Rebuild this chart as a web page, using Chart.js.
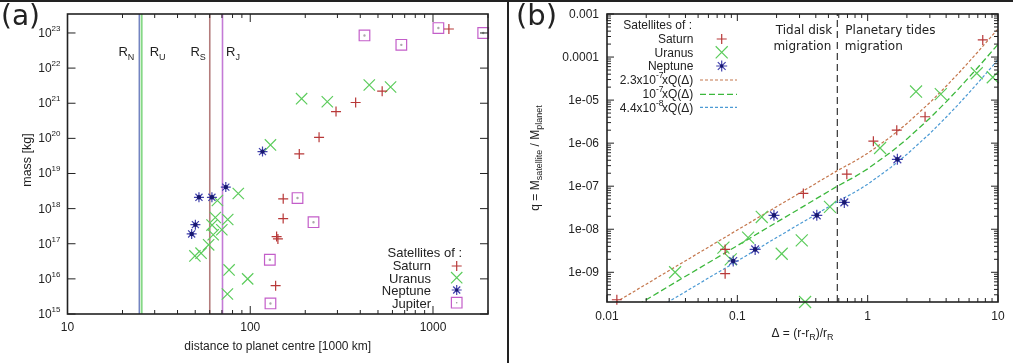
<!DOCTYPE html>
<html><head><meta charset="utf-8">
<script src="https://cdn.jsdelivr.net/npm/chart.js@4.4.0/dist/chart.umd.min.js"></script>
<style>
html,body{margin:0;padding:0;background:#fff;width:1024px;height:363px;overflow:hidden;}
#ca{position:absolute;left:0;top:0;}
#cb{position:absolute;left:510px;top:0;}
#topline{position:absolute;left:0;top:0;width:1013px;height:2px;background:#222;}
#divider{position:absolute;left:507px;top:0;width:2px;height:363px;background:#222;}
</style></head><body>
<canvas id="ca" width="507" height="363"></canvas>
<canvas id="cb" width="514" height="363"></canvas>
<div id="topline"></div><div id="divider"></div>
<script>
// ================= DATA: panel (a) =================
const aXTicks = [10, 100, 1000];
const aXTickLabels = ['10', '100', '1000'];
const aYTickExp = [15, 16, 17, 18, 19, 20, 21, 22, 23];
const saturnDist = [1221.9, 527.1, 377.4, 294.7, 238.0, 185.5, 151.5, 151.4, 139.4, 141.7, 137.7];
const saturnMass = [1.3e23, 2.2e21, 1.05e21, 5.8e20, 1.07e20, 3.6e19, 1.9e18, 5.2e17, 1.6e17, 1.37e17, 6.4e15];
const uranusDist = [448, 586, 191, 264, 129, 86, 66.1, 64.4, 75.3, 61.8, 69.9, 62.7, 59.2, 49.8, 53.8, 76.6, 75.0, 96.8];
const uranusMass = [3.3e21, 2.9e21, 1.35e21, 1.1e21, 6.5e19, 2.7e18, 1.7e18, 5.6e17, 4.9e17, 3.4e17, 2.5e17, 1.8e17, 9.3e16, 4.5e16, 5.4e16, 1.8e16, 3.7e15, 1.0e16];
const neptuneDist = [116.7, 73.5, 61.7, 52.4, 50.1, 47.8];
const neptuneMass = [4.2e19, 4.1e18, 2.1e18, 2.1e18, 3.5e17, 1.9e17];
const jupiterDist = [421.8, 671.1, 1070.4, 1882.7, 181.4, 221.9, 128.0, 129.0];
const jupiterMass = [8.5e22, 4.6e22, 1.38e23, 1.0e23, 2.0e18, 4.1e17, 3.5e16, 2.0e15];
const rocheNames = ['N', 'U', 'S', 'J'];
const rocheDist = [24.7, 25.45, 60.05, 70.5];
const aXRange = [10, 2000];
const aYRange = [1e15, 3.47e23];

// ================= DATA: panel (b) =================
const bXTicks = [0.01, 0.1, 1, 10];
const bXTickLabels = ['0.01', '0.1', '1', '10'];
const bYTicks = [1e-3, 1e-4, 1e-5, 1e-6, 1e-7, 1e-8, 1e-9];
const bYTickLabels = ['0.001', '0.0001', '1e-05', '1e-06', '1e-07', '1e-08', '1e-09'];
const bSaturnD = [0.0119, 0.0806, 0.0806, 0.321, 0.692, 1.106, 1.672, 2.757, 7.64];
const bSaturnQ = [2.3e-10, 9.3e-10, 3.4e-9, 6.8e-8, 1.9e-7, 1.11e-6, 2.0e-6, 4.1e-6, 2.5e-4];
const bUranusD = [0.0333, 0.0782, 0.089, 0.121, 0.154, 0.219, 0.312, 0.331, 0.514, 1.245, 2.35, 3.64, 6.87, 9.12];
const bUranusQ = [1.0e-9, 3.75e-9, 2.0e-9, 6.4e-9, 1.93e-8, 2.7e-9, 5.5e-9, 2.04e-10, 3.3e-8, 7.7e-7, 1.58e-5, 1.38e-5, 4.2e-5, 3.4e-5];
const bNeptuneD = [0.093, 0.137, 0.191, 0.407, 0.662, 1.69];
const bNeptuneQ = [1.83e-9, 3.4e-9, 2.1e-8, 2.1e-8, 4.2e-8, 4.2e-7];
const curveDelta = [0.01, 0.015, 0.02, 0.03, 0.05, 0.1, 0.2, 0.3, 0.4, 0.585, 0.8, 1, 1.5, 2, 3, 4, 5, 7, 10];
const curveHigh = [1.52e-10, 3.15e-10, 5.3e-10, 1.1e-9, 2.76e-9, 9.6e-9, 3.34e-8, 6.9e-8, 1.16e-7, 2.3e-7, 3.84e-7, 5.8e-7, 1.4e-6, 2.85e-6, 8.7e-6, 2.1e-5, 4.25e-5, 1.31e-4, 4.5e-4];
const curveMid = [6.6e-11, 1.37e-10, 2.3e-10, 4.8e-10, 1.2e-9, 4.16e-9, 1.45e-8, 3.0e-8, 5.05e-8, 1.0e-7, 1.67e-7, 2.53e-7, 6.1e-7, 1.24e-6, 3.8e-6, 9.1e-6, 1.85e-5, 5.7e-5, 1.97e-4];
const curveLow = [2.9e-11, 6.0e-11, 1.0e-10, 2.1e-10, 5.3e-10, 1.83e-9, 6.4e-9, 1.32e-8, 2.2e-8, 4.4e-8, 7.3e-8, 1.11e-7, 2.7e-7, 5.5e-7, 1.67e-6, 4.0e-6, 8.1e-6, 2.5e-5, 8.7e-5];
const tidalBoundary = [0.585];
const bXRange = [0.01, 10];
const bYRange = [2.04e-10, 1e-3];

// ================= STYLE =================
const F = '"Liberation Sans", Arial, Helvetica, sans-serif';
const D = '"DejaVu Sans", sans-serif';
const C = { sat: '#b83838', ura: '#5ccc5c', nep: '#4040ac', nepC: '#181870', jup: '#c35ec9',
  rN: '#6f7fbf', rU: '#86d886', rS: '#b47c7c', rJ: '#c47ad6',
  cH: '#c4764c', cM: '#3cb83c', cL: '#4c9ad4' };

const pts = (xs, ys) => xs.map((x, i) => ({ x: x, y: ys[i] }));

function marker(ctx, style, x, y, r) {
  ctx.beginPath();
  const d = r * Math.SQRT1_2;
  if (style === 'cross' || style === 'star') { ctx.moveTo(x - r, y); ctx.lineTo(x + r, y); ctx.moveTo(x, y - r); ctx.lineTo(x, y + r); }
  if (style === 'crossRot' || style === 'star') { ctx.moveTo(x - d, y - d); ctx.lineTo(x + d, y + d); ctx.moveTo(x - d, y + d); ctx.lineTo(x + d, y - d); }
  if (style === 'rect') { ctx.rect(x - d, y - d, 2 * d, 2 * d); }
  ctx.stroke();
}
function rich(ctx, x, y, segs, align) {
  let w = 0;
  segs.forEach(s => { ctx.font = s.f; w += ctx.measureText(s.t).width + (s.dx || 0); });
  let cx = align === 'right' ? x - w : (align === 'center' ? x - w / 2 : x);
  ctx.textAlign = 'left'; ctx.textBaseline = 'alphabetic';
  segs.forEach(s => { ctx.font = s.f; ctx.fillText(s.t, cx, y + (s.dy || 0)); cx += ctx.measureText(s.t).width + (s.dx || 0); });
}
function logTicks(ctx, scale, ca, horiz, lo, hi, withMinor, lenMaj, lenMin) {
  const e0 = Math.floor(Math.log10(lo)) , e1 = Math.ceil(Math.log10(hi));
  ctx.beginPath();
  for (let e = e0; e <= e1; e++) {
    for (let m = 1; m <= 9; m++) {
      if (m > 1 && !withMinor) continue;
      const v = m * Math.pow(10, e);
      if (v < lo * 0.999 || v > hi * 1.001) continue;
      const L = m === 1 ? lenMaj : lenMin;
      const p = scale.getPixelForValue(v);
      if (horiz) { ctx.moveTo(p, ca.bottom); ctx.lineTo(p, ca.bottom - L); ctx.moveTo(p, ca.top); ctx.lineTo(p, ca.top + L); }
      else { ctx.moveTo(ca.left, p); ctx.lineTo(ca.left + L, p); ctx.moveTo(ca.right, p); ctx.lineTo(ca.right - L, p); }
    }
  }
  ctx.stroke();
}

// ================= PANEL (a) =================
const plugA = {
  id: 'decorA',
  afterDraw(chart) {
    const ctx = chart.ctx, ca = chart.chartArea, xs = chart.scales.x, ys = chart.scales.y;
    ctx.save();
    ctx.strokeStyle = '#222'; ctx.lineWidth = 1;
    logTicks(ctx, xs, ca, true, aXRange[0], aXRange[1], true, 8, 4);
    logTicks(ctx, ys, ca, false, aYRange[0], aYRange[1], false, 8, 4);
    ctx.lineWidth = 1.6;
    ctx.strokeRect(ca.left, ca.top, ca.right - ca.left, ca.bottom - ca.top);
    ctx.fillStyle = '#222';
    ctx.font = '12px ' + F; ctx.textAlign = 'center'; ctx.textBaseline = 'alphabetic';
    aXTicks.forEach((v, i) => ctx.fillText(aXTickLabels[i], xs.getPixelForValue(v), 331));
    aYTickExp.forEach(e => {
      const p = ys.getPixelForValue(Math.pow(10, e));
      rich(ctx, ca.left - 7, p + 4, [{ t: '10', f: '12px ' + F }, { t: String(e), f: '8px ' + F, dy: -6, dx: 0 }], 'right');
    });
    ctx.font = '12px ' + F; ctx.textAlign = 'center';
    ctx.fillText('distance to planet centre [1000 km]', (ca.left + ca.right) / 2, 350);
    ctx.save(); ctx.translate(30.5, (ca.top + ca.bottom) / 2 - 4); ctx.rotate(-Math.PI / 2);
    ctx.font = '12.5px ' + F; ctx.fillText('mass [kg]', 0, 0); ctx.restore();
    const off = [[-5, 'right'], [8, 'left'], [-4, 'right'], [3.5, 'left']];
    rocheDist.forEach((r, i) => {
      const p = xs.getPixelForValue(r);
      rich(ctx, p + off[i][0], 56, [{ t: 'R', f: '13px ' + F }, { t: rocheNames[i], f: '9px ' + F, dy: 3.5 }], off[i][1]);
    });
    ctx.font = '28px ' + D; ctx.textAlign = 'left'; ctx.fillText('(a)', 1, 25);
    ctx.font = '13px ' + F; ctx.textAlign = 'right';
    ctx.fillText('Satellites of :', 462, 257.3);
    const leg = [['Saturn', C.sat, 'cross', 5, 270, 266], ['Uranus', C.ura, 'crossRot', 8, 282.7, 277.7],
                 ['Neptune', C.nep, 'star', 5, 295, 290], ['Jupiter', C.jup, 'rect', 7.5, 307.7, 302.7]];
    leg.forEach(l => {
      ctx.fillStyle = '#222'; ctx.fillText(l[0], 431, l[4]);
      ctx.strokeStyle = l[1]; ctx.lineWidth = 1.2; marker(ctx, l[2], 456.7, l[5], l[3]);
    });
    ctx.fillStyle = C.nepC; ctx.beginPath(); ctx.arc(456.7, 290, 1.6, 0, 2 * Math.PI); ctx.fill();
    ctx.fillStyle = '#999'; ctx.beginPath(); ctx.arc(456.7, 302.7, 0.8, 0, 2 * Math.PI); ctx.fill();
    ctx.restore();
  }
};

const rocheColors = [C.rN, C.rU, C.rS, C.rJ];
const rocheWidths = [1.4, 2, 1.6, 1.6];
const aDatasets = [];
rocheDist.forEach((r, i) => aDatasets.push({
  type: 'line', data: [{ x: r, y: aYRange[0] }, { x: r, y: aYRange[1] }], showLine: true,
  borderColor: rocheColors[i], borderWidth: rocheWidths[i], pointRadius: 0, order: 10, clip: 0
}));
const mk = (data, color, style, r, order, fill) => ({
  data: data, pointStyle: style, pointRadius: r, pointBorderColor: color, pointBorderWidth: 1.2,
  pointBackgroundColor: fill || 'rgba(0,0,0,0)', borderColor: color, backgroundColor: 'rgba(0,0,0,0)', order: order, clip: false
});
aDatasets.push(mk(pts(saturnDist, saturnMass), C.sat, 'cross', 5, 4));
aDatasets.push(mk(pts(uranusDist, uranusMass), C.ura, 'crossRot', 8, 5));
aDatasets.push(mk(pts(neptuneDist, neptuneMass), C.nep, 'star', 5, 3));
aDatasets.push(mk(pts(neptuneDist, neptuneMass), C.nepC, 'circle', 1.6, 2, C.nepC));
aDatasets.push(mk(pts(jupiterDist, jupiterMass), C.jup, 'rect', 7.5, 4));
aDatasets.push(mk(pts(jupiterDist, jupiterMass), '#aaa', 'circle', 0.6, 2, '#aaa'));

const common = (padRight, yW, xH, xr, yr) => ({
  responsive: false, animation: false, events: [], devicePixelRatio: 1,
  layout: { padding: { left: 0, top: 14, right: padRight, bottom: 0 } },
  plugins: { legend: { display: false }, tooltip: { enabled: false } },
  scales: {
    x: { type: 'logarithmic', min: xr[0], max: xr[1], grid: { display: false }, border: { display: false },
         ticks: { display: false }, afterFit(s) { s.height = xH; } },
    y: { type: 'logarithmic', min: yr[0], max: yr[1], grid: { display: false }, border: { display: false },
         ticks: { display: false }, afterFit(s) { s.width = yW; } }
  }
});

new Chart(document.getElementById('ca'), {
  type: 'scatter', data: { datasets: aDatasets },
  options: common(19, 67.5, 49, aXRange, aYRange), plugins: [plugA]
});

// ================= PANEL (b) =================
const plugB = {
  id: 'decorB',
  afterDraw(chart) {
    const ctx = chart.ctx, ca = chart.chartArea, xs = chart.scales.x, ys = chart.scales.y;
    const O = 510;
    ctx.save();
    ctx.strokeStyle = '#222'; ctx.lineWidth = 1;
    logTicks(ctx, xs, ca, true, bXRange[0], bXRange[1], true, 7, 4);
    logTicks(ctx, ys, ca, false, bYRange[0], bYRange[1], true, 7, 4);
    ctx.lineWidth = 1.6;
    ctx.strokeRect(ca.left, ca.top, ca.right - ca.left, ca.bottom - ca.top);
    ctx.fillStyle = '#222';
    ctx.font = '12px ' + F; ctx.textAlign = 'center'; ctx.textBaseline = 'alphabetic';
    bXTicks.forEach((v, i) => ctx.fillText(bXTickLabels[i], xs.getPixelForValue(v), 320));
    ctx.textAlign = 'right';
    bYTicks.forEach((v, i) => ctx.fillText(bYTickLabels[i], ca.left - 8, ys.getPixelForValue(v) + 4.2));
    rich(ctx, (ca.left + ca.right) / 2, 337, [{ t: '\u0394 = (r-r', f: '12px ' + F }, { t: 'R', f: '9px ' + F, dy: 3 },
      { t: ')/r', f: '12px ' + F }, { t: 'R', f: '9px ' + F, dy: 3 }], 'center');
    ctx.save(); ctx.translate(539 - O, (ca.top + ca.bottom) / 2); ctx.rotate(-Math.PI / 2);
    rich(ctx, 0, 0, [{ t: 'q = M', f: '12px ' + F }, { t: 'satellite', f: '9px ' + F, dy: 3 },
      { t: ' / M', f: '12px ' + F }, { t: 'planet', f: '9px ' + F, dy: 3 }], 'center');
    ctx.restore();
    ctx.fillStyle = '#222'; ctx.font = '12px ' + D; ctx.textAlign = 'right';
    const bx = xs.getPixelForValue(tidalBoundary[0]);
    ctx.fillText('Tidal disk', bx - 5, 34); ctx.fillText('migration', bx - 6, 49.5);
    ctx.textAlign = 'left';
    ctx.fillText('Planetary tides', bx + 8, 34); ctx.fillText('migration', bx + 7.5, 49.5);
    ctx.font = '29px ' + D; ctx.fillText('(b)', 516 - O, 25);
    ctx.font = '12px ' + F; ctx.textAlign = 'right';
    ctx.fillText('Satellites of :', 692 - O, 29.3);
    const sx = 721.7 - O;
    const leg = [['Saturn', C.sat, 'cross', 5, 43.3, 39], ['Uranus', C.ura, 'crossRot', 8.5, 56.7, 52.3], ['Neptune', C.nep, 'star', 5.5, 70, 66]];
    leg.forEach(l => {
      ctx.fillStyle = '#222'; ctx.font = '12px ' + F; ctx.textAlign = 'right'; ctx.fillText(l[0], 693.3 - O, l[4]);
      ctx.strokeStyle = l[1]; ctx.lineWidth = 1.2; marker(ctx, l[2], sx, l[5], l[3]);
    });
    ctx.fillStyle = C.nepC; ctx.beginPath(); ctx.arc(sx, 66, 1.7, 0, 2 * Math.PI); ctx.fill();
    ctx.fillStyle = '#222';
    const f12 = '12px ' + F, f8 = '8.5px ' + F;
    rich(ctx, 693.3 - O, 84, [{ t: '2.3x10', f: f12 }, { t: '-7', f: f8, dy: -6, dx: -1.5 }, { t: 'xQ(\u0394)', f: f12 }], 'right');
    rich(ctx, 693.3 - O, 98, [{ t: '10', f: f12 }, { t: '-7', f: f8, dy: -6, dx: -1.5 }, { t: 'xQ(\u0394)', f: f12 }], 'right');
    rich(ctx, 693.3 - O, 111.5, [{ t: '4.4x10', f: f12 }, { t: '-8', f: f8, dy: -6, dx: -1.5 }, { t: 'xQ(\u0394)', f: f12 }], 'right');
    const ls = [[C.cH, [3, 2], 80], [C.cM, [6, 3], 94.3], [C.cL, [3, 2], 107.3]];
    ls.forEach(l => {
      ctx.strokeStyle = l[0]; ctx.setLineDash(l[1]); ctx.lineWidth = 1.2;
      ctx.beginPath(); ctx.moveTo(700 - O, l[2]); ctx.lineTo(737 - O, l[2]); ctx.stroke();
    });
    ctx.setLineDash([]);
    ctx.restore();
  }
};

const bDatasets = [
  { type: 'line', data: [{ x: tidalBoundary[0], y: bYRange[0] }, { x: tidalBoundary[0], y: bYRange[1] }], showLine: true,
    borderColor: '#333', borderWidth: 1.2, borderDash: [7, 4], pointRadius: 0, order: 12, clip: 0 },
  { type: 'line', data: pts(curveDelta, curveHigh), showLine: true, borderColor: C.cH, borderWidth: 1.2, borderDash: [3, 2], pointRadius: 0, order: 11, clip: 0 },
  { type: 'line', data: pts(curveDelta, curveMid), showLine: true, borderColor: C.cM, borderWidth: 1.3, borderDash: [6, 3], pointRadius: 0, order: 11, clip: 0 },
  { type: 'line', data: pts(curveDelta, curveLow), showLine: true, borderColor: C.cL, borderWidth: 1.2, borderDash: [3, 2], pointRadius: 0, order: 11, clip: 0 },
  mk(pts(bSaturnD, bSaturnQ), C.sat, 'cross', 5, 4),
  mk(pts(bUranusD, bUranusQ), C.ura, 'crossRot', 8.5, 5),
  mk(pts(bNeptuneD, bNeptuneQ), C.nep, 'star', 5.5, 3),
  mk(pts(bNeptuneD, bNeptuneQ), C.nepC, 'circle', 1.7, 2, C.nepC)
];

new Chart(document.getElementById('cb'), {
  type: 'scatter', data: { datasets: bDatasets },
  options: common(26, 97, 61, bXRange, bYRange), plugins: [plugB]
});
</script>
</body></html>
